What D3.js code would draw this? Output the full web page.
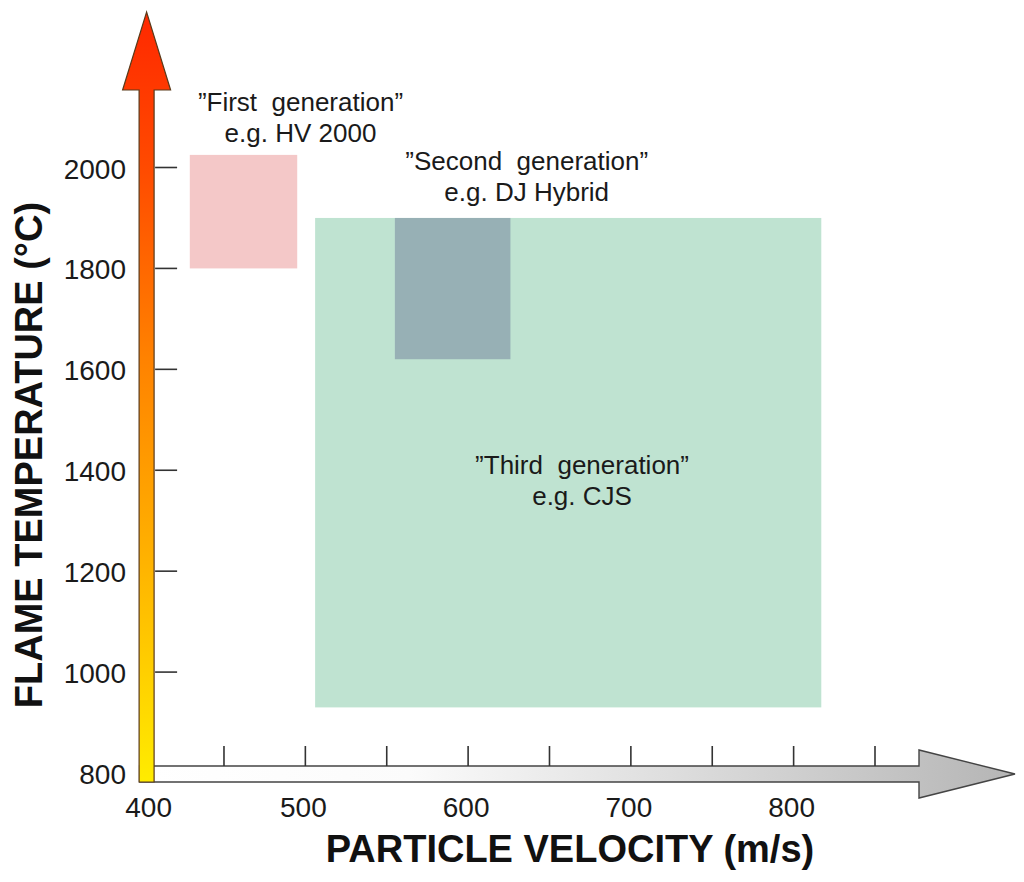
<!DOCTYPE html>
<html><head><meta charset="utf-8">
<script src="https://cdn.jsdelivr.net/npm/d3@7"></script>
<style>html,body{margin:0;padding:0;background:#fff;}svg{display:block;font-family:"Liberation Sans",Arial,sans-serif;}</style>
</head><body>
<script>
// ---- data ----
const generations = ["\u201DFirst  generation\u201D", "\u201DSecond  generation\u201D", "\u201DThird  generation\u201D"];
const examples = ["e.g. HV 2000", "e.g. DJ Hybrid", "e.g. CJS"];
const velMin = [429, 555, 506];
const velMax = [495, 626, 817];
const tempMin = [1800, 1620, 930];
const tempMax = [2025, 1900, 1900];
const labelVel = [497, 636, 670];
const labelTemp = [2112, 1995, 1393];
const fills = ["#f4c8c8", "#97b0b5", "#bfe3d1"];
const xTicks = [450, 500, 550, 600, 650, 700, 750, 800, 850];
const xTickLabels = [400, 500, 600, 700, 800];
const yTicks = [1000, 1200, 1400, 1600, 1800, 2000];
const yTickLabels = [800, 1000, 1200, 1400, 1600, 1800, 2000];
const xTitle = "PARTICLE VELOCITY (m/s)";
const yTitle = "FLAME TEMPERATURE (\u00B0C)";

const W = 1024, H = 882;
const svg = d3.select("body").append("svg").attr("width", W).attr("height", H);
const x = d3.scaleLinear().domain([400, 850]).range([142.6, 875]);
const y = d3.scaleLinear().domain([800, 2000]).range([773, 167.5]);

const defs = svg.append("defs");
const gy = defs.append("linearGradient").attr("id", "gy").attr("gradientUnits", "userSpaceOnUse")
  .attr("x1", 0).attr("x2", 0).attr("y1", 12).attr("y2", 782);
[[0, "#ff2800"], [0.2, "#ff4a00"], [0.45, "#ff8200"], [0.7, "#ffb000"], [1, "#ffec00"]]
  .forEach(s => gy.append("stop").attr("offset", s[0]).attr("stop-color", s[1]));
const gx = defs.append("linearGradient").attr("id", "gx").attr("gradientUnits", "userSpaceOnUse")
  .attr("x1", 150).attr("x2", 1015).attr("y1", 0).attr("y2", 0);
[[0, "#ffffff"], [0.3, "#fbfbfb"], [0.6, "#dedede"], [1, "#b5b5b5"]]
  .forEach(s => gx.append("stop").attr("offset", s[0]).attr("stop-color", s[1]));

// ---- regions (draw third first) ----
const order = [2, 1, 0];
svg.append("g").selectAll("rect").data(order).join("rect")
  .attr("x", i => x(velMin[i]))
  .attr("y", i => y(tempMax[i]))
  .attr("width", i => x(velMax[i]) - x(velMin[i]))
  .attr("height", i => y(tempMin[i]) - y(tempMax[i]))
  .attr("fill", i => fills[i]);

// ---- labels ----
const lab = svg.append("g").attr("fill", "#1a1a1a").attr("font-size", 26).attr("text-anchor", "middle");
generations.forEach((g, i) => {
  const t = lab.append("text").attr("x", x(labelVel[i])).attr("y", y(labelTemp[i]));
  t.append("tspan").attr("x", x(labelVel[i])).text(g).style("white-space", "pre");
  t.append("tspan").attr("x", x(labelVel[i])).attr("dy", 31).text(examples[i]);
});
lab.selectAll("text").attr("xml:space", "preserve");

// ---- x axis arrow ----
const cy = y(800) + 1, hs = 8;
const xEnd = 1015, xHead = 919;
svg.append("path")
  .attr("d", `M${x(400) - 3},${cy - hs} L${xHead},${cy - hs} L${xHead},${cy - 24} L${xEnd},${cy} L${xHead},${cy + 24} L${xHead},${cy + hs} L${x(400) - 3},${cy + hs} Z`)
  .attr("fill", "url(#gx)").attr("stroke", "#444").attr("stroke-width", 1.4);
svg.append("g").selectAll("line").data(xTicks).join("line")
  .attr("x1", d => x(d)).attr("x2", d => x(d)).attr("y1", cy - hs - 20).attr("y2", cy - hs)
  .attr("stroke", "#333").attr("stroke-width", 1.6);

// ---- y axis arrow ----
const cx = x(400) + 4, vs = 7.5;
svg.append("path")
  .attr("d", `M${cx - vs},${cy + hs} L${cx - vs},90 L${cx - 24},90 L${cx},12 L${cx + 24},90 L${cx + vs},90 L${cx + vs},${cy + hs} Z`)
  .attr("fill", "url(#gy)").attr("stroke", "#5a3a1a").attr("stroke-width", 1.2);
svg.append("g").selectAll("line").data(yTicks).join("line")
  .attr("x1", cx + vs + 1).attr("x2", cx + vs + 23).attr("y1", d => y(d)).attr("y2", d => y(d))
  .attr("stroke", "#333").attr("stroke-width", 1.6);

// ---- tick labels ----
svg.append("g").attr("font-size", 28).attr("fill", "#1a1a1a").attr("text-anchor", "middle")
  .selectAll("text").data(xTickLabels).join("text")
  .attr("x", d => x(d) + (d === 400 ? 6 : -2)).attr("y", 817).text(d => d);
svg.append("g").attr("font-size", 28).attr("fill", "#1a1a1a").attr("text-anchor", "end")
  .selectAll("text").data(yTickLabels).join("text")
  .attr("x", 126).attr("y", d => y(d) + 11).text(d => d);

// ---- titles ----
svg.append("text").attr("x", 570).attr("y", 862).attr("text-anchor", "middle")
  .attr("font-size", 38).attr("font-weight", "bold").attr("fill", "#111").text(xTitle);
svg.append("text").attr("transform", "translate(42,455) rotate(-90)").attr("text-anchor", "middle")
  .attr("font-size", 38).attr("font-weight", "bold").attr("fill", "#111").text(yTitle);
</script>
</body></html>
